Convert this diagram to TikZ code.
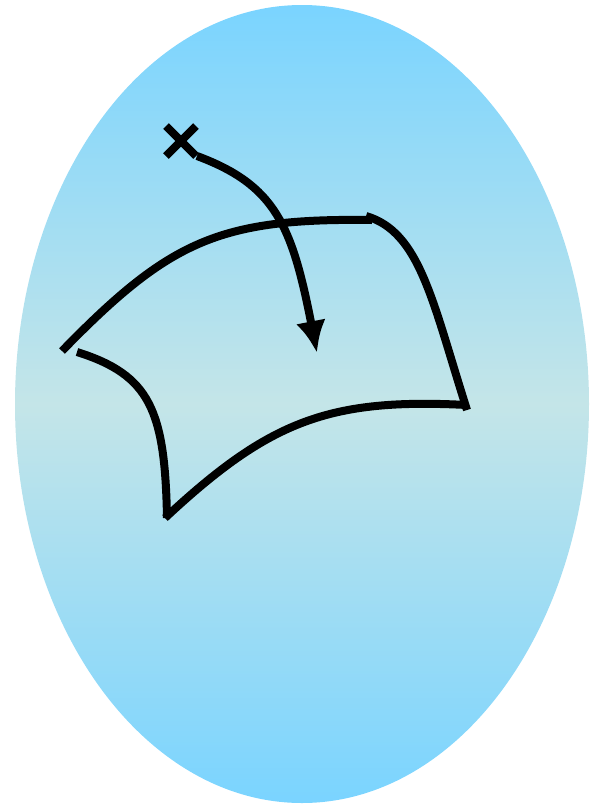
\documentclass[tikz,border=0pt]{standalone}
\usetikzlibrary{arrows.meta}
\definecolor{skytop}{RGB}{122,212,255}
\definecolor{skymid}{RGB}{196,229,232}
\begin{document}
\begin{tikzpicture}[x=1pt,y=-1pt,
  stroke/.style={line width=8pt,black,line cap=butt}]
\useasboundingbox (0,0) rectangle (600,806);
\shade[top color=skytop,bottom color=skytop,middle color=skymid]
  (302,404) ellipse [x radius=287, y radius=399];
% cross
\coordinate (c1) at (166,126); \coordinate (c2) at (196,156);
\coordinate (c3) at (166,156); \coordinate (c4) at (196,126);
\draw[stroke] (c1) -- (c2);
\draw[stroke] (c3) -- (c4);
% arrow
\coordinate (as) at (197,156);
\coordinate (at) at (317,353);
\draw[stroke,-{Latex[length=32pt,width=30pt]}] (as) .. controls (275,185) and (292,225) .. (at);
% surface edges
\coordinate (p1) at (62,351);
\coordinate (p2) at (372,220);
\coordinate (p3) at (467,410);
\coordinate (p4) at (165,518);
\coordinate (p5) at (77,352);
\coordinate (p2a) at (366,216);
\draw[stroke] (p1) .. controls (170,240) and (220,218) .. (p2);
\draw[stroke] (p2a) .. controls (420,232) and (432,300) .. (p3);
\draw[stroke] (467,405) .. controls (330,398) and (270,420) .. (p4);
\draw[stroke] (p5) .. controls (150,375) and (165,410) .. (167,518);
\end{tikzpicture}
\end{document}
